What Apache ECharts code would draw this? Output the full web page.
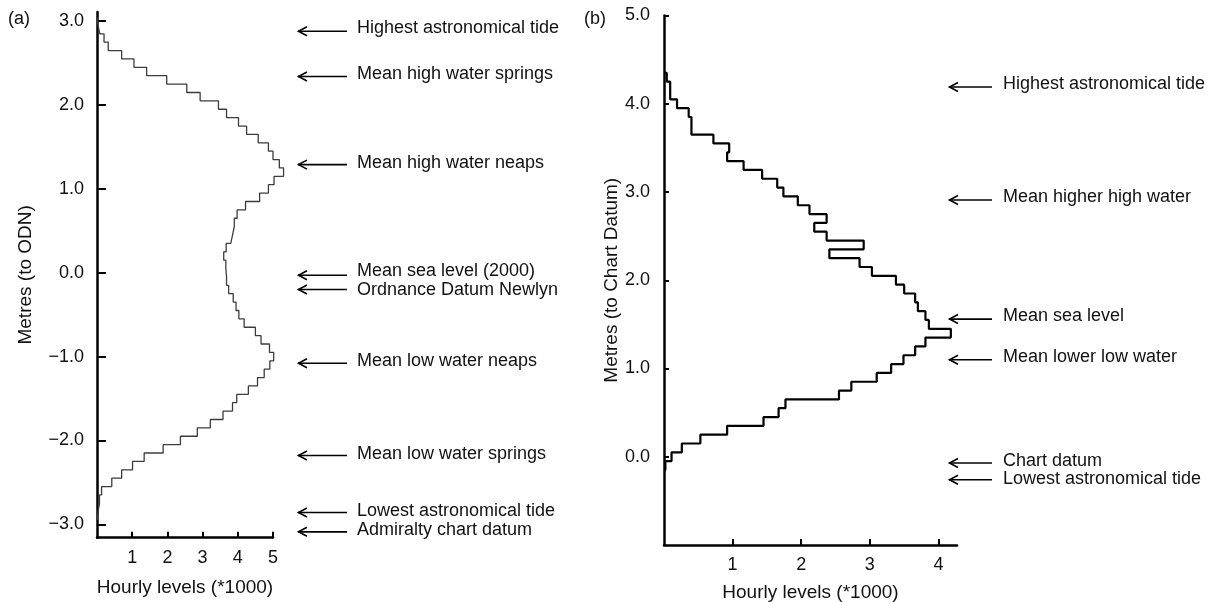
<!DOCTYPE html>
<html>
<head>
<meta charset="utf-8">
<script src="https://cdn.jsdelivr.net/npm/echarts@6/dist/echarts.min.js"></script>
<style>
  html, body { margin: 0; padding: 0; background: #fff; }
  #chart { width: 1222px; height: 602px; }
</style>
</head>
<body>
<div id="chart"></div>
<script>
// Panel (a): hourly sea levels relative to ODN, 0.1 m bins (bin centres, top to bottom)
const levelsA = [3.0, 2.9, 2.8, 2.7, 2.6, 2.5, 2.4, 2.3, 2.2, 2.1, 2.0, 1.9, 1.8, 1.7, 1.6, 1.5, 1.4, 1.3, 1.2, 1.1,
  1.0, 0.9, 0.8, 0.7, 0.6, 0.5, 0.4, 0.3, 0.2, 0.1, 0.0, -0.1, -0.2, -0.3, -0.4, -0.5, -0.6, -0.7, -0.8, -0.9,
  -1.0, -1.1, -1.2, -1.3, -1.4, -1.5, -1.6, -1.7, -1.8, -1.9, -2.0, -2.1, -2.2, -2.3, -2.4, -2.5, -2.6, -2.7, -2.8, -2.9];
// counts in thousands of hours
const countsA = [0.03, 0.08, 0.2, 0.32, 0.7, 1.05, 1.41, 1.98, 2.55, 2.93, 3.45, 3.68, 4.02, 4.25, 4.58, 4.87, 5.0, 5.18, 5.3, 5.03,
  4.87, 4.62, 4.22, 3.98, 3.9, 3.85, 3.8, 3.67, 3.6, 3.66, 3.68, 3.68, 3.74, 3.87, 3.95, 4.03, 4.18, 4.5, 4.66, 4.9,
  5.02, 4.91, 4.75, 4.56, 4.3, 3.97, 3.85, 3.58, 3.22, 2.85, 2.37, 1.88, 1.34, 1.01, 0.7, 0.42, 0.13, 0.07, 0.03, 0.01];

// Panel (b): hourly levels relative to Chart Datum, 0.1 m bins
const levelsB = [4.3, 4.2, 4.1, 4.0, 3.9, 3.8, 3.7, 3.6, 3.5, 3.4, 3.3, 3.2, 3.1, 3.0, 2.9, 2.8, 2.7, 2.6, 2.5, 2.4,
  2.3, 2.2, 2.1, 2.0, 1.9, 1.8, 1.7, 1.6, 1.5, 1.4, 1.3, 1.2, 1.1, 1.0, 0.9, 0.8, 0.7, 0.6, 0.5, 0.4,
  0.3, 0.2, 0.1, 0.0, -0.1];
const countsB = [0.04, 0.09, 0.09, 0.19, 0.36, 0.4, 0.4, 0.72, 0.95, 0.92, 1.16, 1.43, 1.65, 1.74, 1.95, 2.12, 2.37, 2.19, 2.37, 2.91,
  2.41, 2.85, 3.03, 3.38, 3.5, 3.66, 3.7, 3.81, 3.86, 4.18, 3.81, 3.66, 3.49, 3.31, 3.1, 2.73, 2.55, 1.77, 1.67, 1.45,
  0.92, 0.53, 0.26, 0.11, 0.02];
const binWidth = 0.1;

// Tick values
const yTicksA = [-3, -2, -1, 0, 1, 2, 3];
const xTicksA = [1, 2, 3, 4, 5];
const yTicksB = [0, 1, 2, 3, 4, 5];
const xTicksB = [1, 2, 3, 4];

// Tidal datum annotations
const datumNamesA = ['Highest astronomical tide', 'Mean high water springs', 'Mean high water neaps',
  'Mean sea level (2000)', 'Ordnance Datum Newlyn', 'Mean low water neaps', 'Mean low water springs',
  'Lowest astronomical tide', 'Admiralty chart datum'];
const datumLevelsA = [2.88, 2.34, 1.29, -0.03, -0.2, -1.08, -2.18, -2.86, -3.09];
const datumNamesB = ['Highest astronomical tide', 'Mean higher high water', 'Mean sea level',
  'Mean lower low water', 'Chart datum', 'Lowest astronomical tide'];
const datumLevelsB = [4.19, 2.91, 1.56, 1.1, -0.07, -0.26];

// Layout: vertical shift of each label relative to its arrow (px)
const labelShiftA = [-3, -3, -2, -4, 1, -2, -2, -2, -2];
const labelShiftB = [-3, -3, -3, -3, -2, -1];

const FONT = '"Liberation Sans", Arial, Helvetica, sans-serif';

// Histogram outline: vertical run at each bin's count, joined at bin edges
function outline(levels, counts) {
  const h = binWidth / 2;
  const pts = [[0, levels[0] + h]];
  levels.forEach((lv, i) => {
    pts.push([counts[i], lv + h]);
    pts.push([counts[i], lv - h]);
  });
  pts.push([0, levels[levels.length - 1] - h]);
  return pts;
}

const fmtMetres = v => (v < 0 ? '\u2212' : '') + Math.abs(v).toFixed(1);

function valueAxis(extra) {
  return Object.assign({
    type: 'value',
    splitLine: { show: false },
    axisLine: { show: true, onZero: false, lineStyle: { color: '#000', width: 2.5 } },
    nameTextStyle: { color: '#111', fontSize: 19, fontFamily: FONT },
    nameLocation: 'middle'
  }, extra);
}
function hiddenAxis(extra) {
  return Object.assign({
    type: 'value', show: false, splitLine: { show: false }
  }, extra);
}
const tickStyle = { color: '#000', width: 2 };
const labelStyle = { color: '#111', fontSize: 18, fontFamily: FONT };

// Panel (a) axis ends at 5 but the counts run a little past it, so the curve
// sits on an overlaid grid with the same scale and a longer x extent.
const gridA = { left: 97, top: 12, width: 176, height: 525.7 };
const xMaxA = 5, xMaxCurveA = 5.5;

const chart = echarts.init(document.getElementById('chart'), null, { renderer: 'canvas' });

const option = {
  animation: false,
  backgroundColor: '#fff',
  grid: [
    Object.assign({ outerBoundsMode: 'none', containLabel: false }, gridA),
    { left: 664, top: 15.5, width: 293, height: 529.5, outerBoundsMode: 'none', containLabel: false },
    { left: gridA.left, top: gridA.top, height: gridA.height, width: gridA.width * xMaxCurveA / xMaxA,
      outerBoundsMode: 'none', containLabel: false }
  ],
  xAxis: [
    valueAxis({
      gridIndex: 0, min: 0, max: xMaxA,
      name: 'Hourly levels (*1000)', nameGap: 41,
      axisTick: { show: true, inside: true, length: 6, customValues: xTicksA, lineStyle: tickStyle },
      axisLabel: Object.assign({ margin: 11, customValues: xTicksA }, labelStyle)
    }),
    valueAxis({
      gridIndex: 1, min: 0, max: 4.27,
      name: 'Hourly levels (*1000)', nameGap: 38,
      axisTick: { show: true, inside: true, length: 6, customValues: xTicksB, lineStyle: tickStyle },
      axisLabel: Object.assign({ margin: 11, customValues: xTicksB }, labelStyle)
    }),
    hiddenAxis({ gridIndex: 2, min: 0, max: xMaxCurveA })
  ],
  yAxis: [
    valueAxis({
      gridIndex: 0, min: -3.16, max: 3.11,
      name: 'Metres (to ODN)', nameGap: 62,
      axisTick: { show: true, inside: true, length: 9, customValues: yTicksA, lineStyle: tickStyle },
      axisLabel: Object.assign({ margin: 13, customValues: yTicksA, formatter: fmtMetres }, labelStyle)
    }),
    valueAxis({
      gridIndex: 1, min: -1, max: 5,
      name: 'Metres (to Chart Datum)', nameGap: 42,
      axisTick: { show: true, inside: true, length: 5, customValues: yTicksB, lineStyle: tickStyle },
      axisLabel: Object.assign({ margin: 14, customValues: yTicksB, formatter: fmtMetres }, labelStyle)
    }),
    hiddenAxis({ gridIndex: 2, min: -3.16, max: 3.11 })
  ],
  series: [
    {
      type: 'line', xAxisIndex: 2, yAxisIndex: 2,
      data: outline(levelsA, countsA),
      showSymbol: false, symbol: 'none',
      lineStyle: { color: '#3c3c3c', width: 1.3 }
    },
    {
      type: 'line', xAxisIndex: 1, yAxisIndex: 1,
      data: outline(levelsB, countsB),
      showSymbol: false, symbol: 'none', clip: false,
      lineStyle: { color: '#000', width: 2.2 }
    }
  ]
};

chart.setOption(option);

// Arrows and labels for the tidal datums, placed on each panel's level scale
function datumGraphics(names, levels, shifts, yAxisIndex, headX, tailX, textX) {
  const out = [];
  names.forEach((name, i) => {
    const y = chart.convertToPixel({ yAxisIndex: yAxisIndex }, levels[i]);
    out.push({
      type: 'line', silent: true,
      shape: { x1: headX, y1: y, x2: tailX, y2: y },
      style: { stroke: '#000', lineWidth: 1.6 }
    });
    out.push({
      type: 'polyline', silent: true,
      shape: { points: [[headX + 9, y - 4.5], [headX + 0.5, y], [headX + 9, y + 4.5]] },
      style: { stroke: '#000', lineWidth: 1.6, fill: null }
    });
    out.push({
      type: 'text', silent: true,
      x: textX, y: y + shifts[i],
      style: { text: name, fill: '#111', font: '18px ' + FONT, textAlign: 'left', textVerticalAlign: 'middle' }
    });
  });
  return out;
}

const graphics = []
  .concat(datumGraphics(datumNamesA, datumLevelsA, labelShiftA, 0, 298, 347, 357))
  .concat(datumGraphics(datumNamesB, datumLevelsB, labelShiftB, 1, 949, 992, 1003))
  .concat([
    { type: 'text', x: 8, y: 19, style: { text: '(a)', fill: '#111', font: '18px ' + FONT, textVerticalAlign: 'middle' } },
    { type: 'text', x: 584, y: 19, style: { text: '(b)', fill: '#111', font: '18px ' + FONT, textVerticalAlign: 'middle' } }
  ]);

chart.setOption({ graphic: graphics });
</script>
</body>
</html>
